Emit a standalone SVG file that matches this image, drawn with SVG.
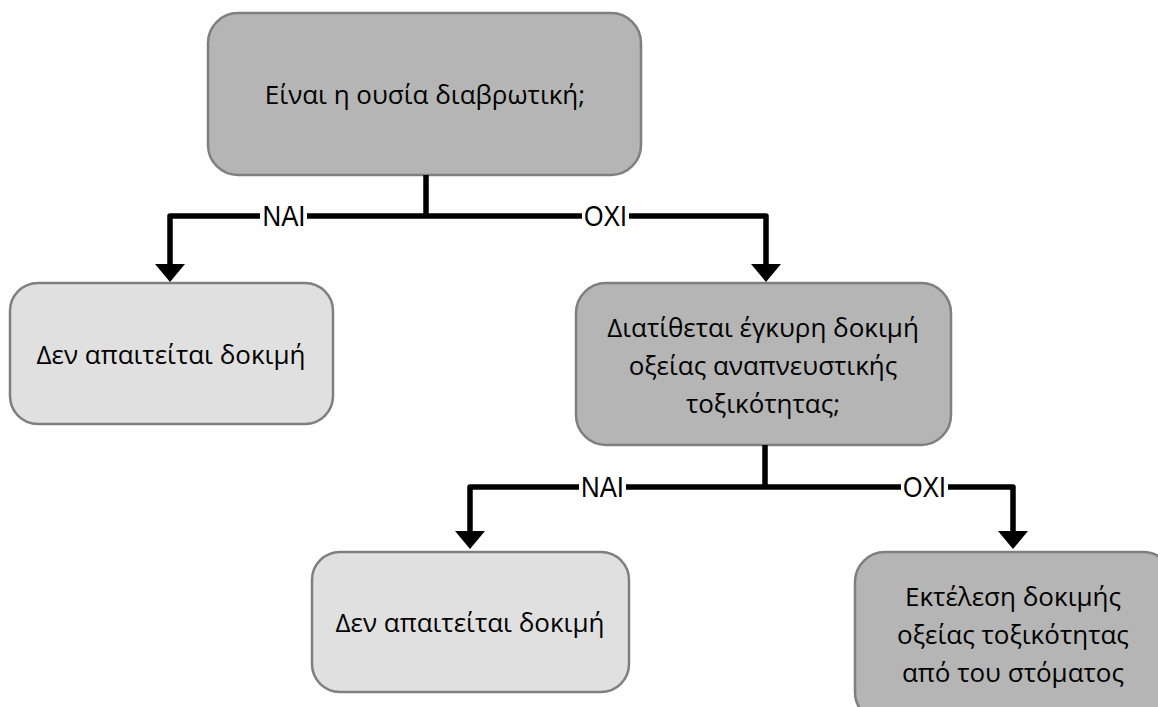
<svg xmlns="http://www.w3.org/2000/svg" width="1158" height="707" viewBox="0 0 1158 707">
<defs>
<style>
.box rect{stroke:#7f7f7f;stroke-width:2.5}
.dark rect{fill:#b5b5b5}
.light rect{fill:#e0e0e0}
.box text{font-family:"Open Sans","Noto Sans",sans-serif;font-size:26px;fill:#000;text-anchor:middle}
.wire{fill:none;stroke:#000;stroke-width:5.5;stroke-linejoin:round}
.lbl{font-family:"Liberation Sans",Arial,sans-serif;font-size:30px;fill:#000;text-anchor:middle}
.knock{fill:#fff}
</style>
</defs>
<g id="n1" class="box dark"><rect x="208" y="13" width="433" height="162" rx="30"/><text x="425" y="104">Είναι η ουσία διαβρωτική;</text></g>
<g id="n2" class="box light"><rect x="10" y="283" width="323" height="141" rx="28"/><text x="171" y="364">Δεν απαιτείται δοκιμή</text></g>
<g id="n3" class="box dark"><rect x="576" y="283" width="375" height="162" rx="30"/><text x="763" y="337">Διατίθεται έγκυρη δοκιμή</text><text x="763" y="375">οξείας αναπνευστικής</text><text x="763" y="413">τοξικότητας;</text></g>
<g id="n4" class="box light"><rect x="312" y="552" width="317" height="140" rx="28"/><text x="470" y="632">Δεν απαιτείται δοκιμή</text></g>
<g id="n5" class="box dark"><rect x="855" y="552" width="318" height="170" rx="30"/><text x="1013" y="606">Εκτέλεση δοκιμής</text><text x="1013" y="644">οξείας τοξικότητας</text><text x="1013" y="682">από του στόματος</text></g>
<g id="connectors">
<path class="wire" d="M426 175V216M170 265V216H766V265"/>
<path d="M155 264H185L170 282Z M751 264H781L766 282Z"/>
<rect class="knock" x="260" y="202" width="47" height="26"/>
<text class="lbl" x="284" y="226" textLength="43" lengthAdjust="spacingAndGlyphs">NAI</text>
<rect class="knock" x="582" y="202" width="47" height="26"/>
<text class="lbl" x="605.5" y="226" textLength="43" lengthAdjust="spacingAndGlyphs">OXI</text>
<path class="wire" d="M765 445V487M470 532V487H1013V532"/>
<path d="M455 531H485L470 549Z M998 531H1028L1013 549Z"/>
<rect class="knock" x="579" y="473" width="47" height="26"/>
<text class="lbl" x="602.5" y="497" textLength="43" lengthAdjust="spacingAndGlyphs">NAI</text>
<rect class="knock" x="901" y="473" width="47" height="26"/>
<text class="lbl" x="924.5" y="497" textLength="43" lengthAdjust="spacingAndGlyphs">OXI</text>
</g>
</svg>
